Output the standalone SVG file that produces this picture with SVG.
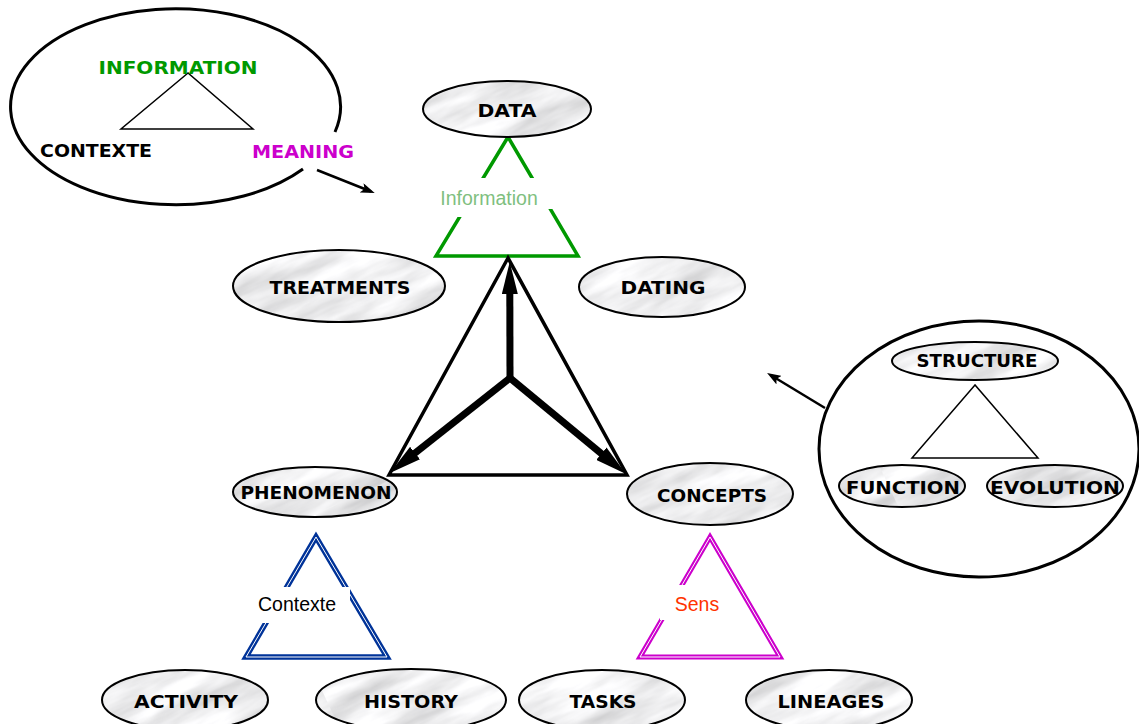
<svg xmlns="http://www.w3.org/2000/svg" width="1139" height="724" viewBox="0 0 1139 724">
<style>
.lbl{font-family:"DejaVu Sans","Liberation Sans",sans-serif;font-weight:bold;font-size:17px;fill:#000;text-anchor:middle}
.sm{font-family:"Liberation Sans",Arial,sans-serif;font-size:19.5px;text-anchor:middle}
.out{fill:none;stroke:#000;stroke-width:2}
.bub{fill:none;stroke:#000;stroke-width:3}
.thin{fill:none;stroke:#000;stroke-width:1.5}
.nf{fill:url(#mp)}
</style>
<defs>
<filter id="tex" x="0" y="0" width="600" height="600" filterUnits="userSpaceOnUse">
<feTurbulence type="fractalNoise" baseFrequency="0.01 0.045" numOctaves="4" seed="11" result="n"/>
<feColorMatrix in="n" type="matrix" values="0.7 0 0 0 0.5  0.7 0 0 0 0.5  0.7 0 0 0 0.51  0 0 0 0 1"/>
</filter>
<pattern id="mp" patternUnits="userSpaceOnUse" width="600" height="600" patternTransform="rotate(-25)">
<rect width="600" height="600" fill="#ddd" filter="url(#tex)"/>
</pattern>
<marker id="big" markerUnits="userSpaceOnUse" markerWidth="32" markerHeight="16" viewBox="0 0 32 16" refX="10" refY="8" orient="auto">
<path d="M0,0 L32,8 L0,16 z" fill="#000"/>
</marker>
<marker id="small" markerUnits="userSpaceOnUse" markerWidth="14" markerHeight="10" viewBox="0 0 14 10" refX="10" refY="5" orient="auto">
<path d="M0,0 L14,5 L0,10 L3,5 z" fill="#000"/>
</marker>
</defs>
<rect width="1139" height="724" fill="#fff"/>

<g id="legend-information">
<path class="bub" d="M335,132 A165 98 0 1 0 303,169"/>
<polygon class="thin" points="188,73 121,129 253,129"/>
<text class="lbl" x="178" y="74" style="fill:#009900" textLength="159" lengthAdjust="spacingAndGlyphs">INFORMATION</text>
<text class="lbl" x="96" y="157" textLength="112" lengthAdjust="spacingAndGlyphs">CONTEXTE</text>
<text class="lbl" x="303" y="158" style="fill:#cc00cc" textLength="102" lengthAdjust="spacingAndGlyphs">MEANING</text>
</g>

<g id="legend-structure">
<ellipse class="bub" cx="979" cy="449" rx="160" ry="128"/>
<polygon class="thin" points="975,385 912,458 1038,458"/>
</g>

<g id="tri-information">
<polygon points="508,137 436,256 578,256" fill="none" stroke="#009900" stroke-width="3.5"/>
<rect x="436" y="178" width="118" height="31" fill="#fff"/>
<rect x="436" y="178" width="50" height="39" fill="#fff"/>
<text class="sm" x="489" y="205" fill="#7fbf7f">Information</text>
</g>

<g id="tri-contexte">
<polygon points="316,537 246,657 387,657" fill="none" stroke="#003399" stroke-width="5.5"/>
<polygon points="316,537 246,657 387,657" fill="none" stroke="#fff" stroke-width="1"/>
<rect x="250" y="587" width="100" height="36" fill="#fff"/>
<text class="sm" x="297" y="611" fill="#000">Contexte</text>
</g>

<g id="tri-sens">
<polygon points="710,537 640,657 780,657" fill="none" stroke="#cc00cc" stroke-width="5"/>
<polygon points="710,537 640,657 780,657" fill="none" stroke="#fff" stroke-width="1"/>
<rect x="660" y="585" width="65" height="35" fill="#fff"/>
<text class="sm" x="697" y="611" fill="#ff3300">Sens</text>
</g>

<g id="connectors">
<polygon points="508,258 389,475 627,475" fill="none" stroke="#000" stroke-width="3.5" stroke-linejoin="miter"/>
<line x1="510" y1="381" x2="509.8" y2="284" stroke="#000" stroke-width="7" marker-end="url(#big)"/>
<line x1="510" y1="378" x2="407.2" y2="459.3" stroke="#000" stroke-width="7" marker-end="url(#big)"/>
<line x1="510" y1="378" x2="609.1" y2="460" stroke="#000" stroke-width="7" marker-end="url(#big)"/>
<line x1="317" y1="170" x2="371" y2="191.5" stroke="#000" stroke-width="2.5" marker-end="url(#small)"/>
<line x1="825" y1="408" x2="770.5" y2="375" stroke="#000" stroke-width="2.5" marker-end="url(#small)"/>
</g>

<g id="n-data"><ellipse class="nf" cx="507" cy="109" rx="84" ry="28"/><ellipse class="out" cx="507" cy="109" rx="84" ry="28"/><text class="lbl" x="507" y="117" textLength="59" lengthAdjust="spacingAndGlyphs">DATA</text></g>
<g id="n-treatments"><ellipse class="nf" cx="339" cy="286" rx="106" ry="36"/><ellipse class="out" cx="339" cy="286" rx="106" ry="36"/><text class="lbl" x="340" y="294" textLength="141" lengthAdjust="spacingAndGlyphs">TREATMENTS</text></g>
<g id="n-dating"><ellipse class="nf" cx="662" cy="287" rx="83" ry="30"/><ellipse class="out" cx="662" cy="287" rx="83" ry="30"/><text class="lbl" x="663" y="294" textLength="85" lengthAdjust="spacingAndGlyphs">DATING</text></g>
<g id="n-phenomenon"><ellipse class="nf" cx="315" cy="492" rx="82" ry="25"/><ellipse class="out" cx="315" cy="492" rx="82" ry="25"/><text class="lbl" x="316" y="499" textLength="151" lengthAdjust="spacingAndGlyphs">PHENOMENON</text></g>
<g id="n-concepts"><ellipse class="nf" cx="710" cy="494" rx="83" ry="31"/><ellipse class="out" cx="710" cy="494" rx="83" ry="31"/><text class="lbl" x="712" y="502" textLength="110" lengthAdjust="spacingAndGlyphs">CONCEPTS</text></g>
<g id="n-structure"><ellipse class="nf" cx="975" cy="361" rx="83" ry="19"/><ellipse class="out" cx="975" cy="361" rx="83" ry="19"/><text class="lbl" x="977" y="367" textLength="121" lengthAdjust="spacingAndGlyphs">STRUCTURE</text></g>
<g id="n-function"><ellipse class="nf" cx="902" cy="486" rx="63" ry="21"/><ellipse class="out" cx="902" cy="486" rx="63" ry="21"/><text class="lbl" x="903" y="494" textLength="114" lengthAdjust="spacingAndGlyphs">FUNCTION</text></g>
<g id="n-evolution"><ellipse class="nf" cx="1055" cy="486" rx="68" ry="21"/><ellipse class="out" cx="1055" cy="486" rx="68" ry="21"/><text class="lbl" x="1055" y="494" textLength="130" lengthAdjust="spacingAndGlyphs">EVOLUTION</text></g>
<g id="n-activity"><ellipse class="nf" cx="185" cy="700" rx="83" ry="30"/><ellipse class="out" cx="185" cy="700" rx="83" ry="30"/><text class="lbl" x="186" y="708" textLength="104" lengthAdjust="spacingAndGlyphs">ACTIVITY</text></g>
<g id="n-history"><ellipse class="nf" cx="411" cy="700" rx="95" ry="31"/><ellipse class="out" cx="411" cy="700" rx="95" ry="31"/><text class="lbl" x="411" y="708" textLength="94" lengthAdjust="spacingAndGlyphs">HISTORY</text></g>
<g id="n-tasks"><ellipse class="nf" cx="602" cy="700" rx="83" ry="30"/><ellipse class="out" cx="602" cy="700" rx="83" ry="30"/><text class="lbl" x="603" y="708" textLength="67" lengthAdjust="spacingAndGlyphs">TASKS</text></g>
<g id="n-lineages"><ellipse class="nf" cx="829" cy="700" rx="83" ry="30"/><ellipse class="out" cx="829" cy="700" rx="83" ry="30"/><text class="lbl" x="831" y="708" textLength="107" lengthAdjust="spacingAndGlyphs">LINEAGES</text></g>
</svg>
